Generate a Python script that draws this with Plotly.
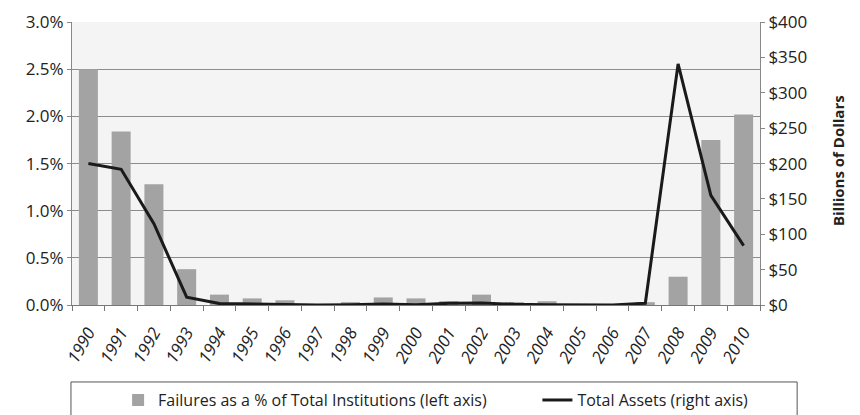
import plotly.graph_objects as go

years = [str(y) for y in range(1990, 2011)]
failure_pct = [2.50, 1.84, 1.28, 0.38, 0.11, 0.07, 0.05, 0.01, 0.03, 0.08, 0.07,
               0.04, 0.11, 0.03, 0.04, 0.00, 0.00, 0.03, 0.30, 1.75, 2.02]
total_assets = [200, 192, 115, 11, 2, 1, 0.5, 0, 0.3, 1.5, 0.4,
                2.3, 2.9, 0.9, 0.2, 0, 0, 2.5, 341, 155, 84]
pct_ticks = [0.0, 0.5, 1.0, 1.5, 2.0, 2.5, 3.0]
usd_ticks = [0, 50, 100, 150, 200, 250, 300, 350, 400]

FONT = "Open Sans"
PAD = "\u00a0" * 11  # extra gap between the two legend entries

fig = go.Figure()

fig.add_trace(go.Bar(
    x=years, y=failure_pct,
    name="Failures as a % of Total Institutions (left axis)" + PAD,
    marker=dict(color="#a3a3a3", line=dict(width=0)),
    yaxis="y",
))

fig.add_trace(go.Scatter(
    x=years, y=total_assets,
    mode="lines",
    name="Total Assets (right axis)",
    line=dict(color="#1a1a1a", width=3),
    yaxis="y2",
))

# page body adds an 8px offset, so the figure is 8px smaller with 8px less margin
fig.update_layout(
    width=852, height=407,
    margin=dict(l=64, r=100, t=14, b=110, autoexpand=False),
    paper_bgcolor="white",
    plot_bgcolor="#f4f4f4",
    font=dict(family=FONT, color="#222", size=14),
    bargap=0.42,
    showlegend=True,
    legend=dict(
        orientation="h",
        x=0.067, xanchor="left",
        y=-0.336, yanchor="middle",
        bgcolor="rgba(0,0,0,0)",
        font=dict(size=16, family=FONT),
        itemwidth=30,
    ),
    xaxis=dict(
        type="category",
        tickangle=-60,
        tickvals=years,
        ticktext=[f"<i>{y}</i>" for y in years],
        tickfont=dict(size=17),
        ticklabelstandoff=10,
        showgrid=False,
        showline=True, linecolor="#777", linewidth=1,
        ticks="outside", ticklen=5, tickcolor="#777",
        tickson="boundaries",
        automargin=False,
    ),
    yaxis=dict(
        range=[0, 3.002],
        tickvals=pct_ticks,
        ticktext=[f"{v:.1f}%" for v in pct_ticks],
        tickfont=dict(size=17),
        showgrid=True, gridcolor="#8c8c8c", gridwidth=1,
        showline=True, linecolor="#888", linewidth=1,
        ticks="outside", ticklen=4, tickcolor="#888",
        zeroline=False,
        automargin=False,
    ),
    yaxis2=dict(
        overlaying="y", side="right",
        range=[0, 400.27],
        tickvals=usd_ticks,
        ticktext=[f"${v}" for v in usd_ticks],
        tickfont=dict(size=17),
        showgrid=False,
        showline=True, linecolor="#888", linewidth=1,
        ticks="outside", ticklen=4, tickcolor="#888",
        zeroline=False,
        automargin=False,
    ),
    shapes=[
        dict(type="rect", xref="paper", yref="paper",
             x0=-0.0015, x1=1.054, y0=-0.272, y1=-0.42,
             line=dict(color="#555", width=1), fillcolor="rgba(0,0,0,0)"),
    ],
    annotations=[
        dict(text="<b>Billions of Dollars</b>", xref="paper", yref="paper",
             x=1.131, y=0.509, textangle=-90, showarrow=False,
             font=dict(size=15, family=FONT)),
    ],
)

fig.write_html("out.html")
